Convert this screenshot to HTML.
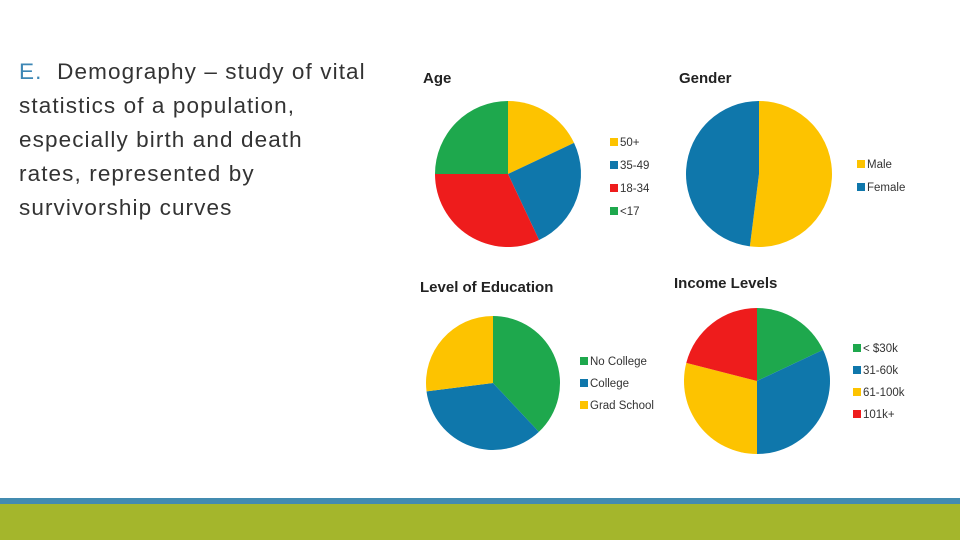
<!DOCTYPE html>
<html><head><meta charset="utf-8"><style>
body{margin:0;width:960px;height:540px;overflow:hidden;background:#fff;font-family:"Liberation Sans",sans-serif;position:relative}
#txt{position:absolute;left:19px;top:55px;width:420px;font-size:22.5px;line-height:34px;color:#333;white-space:nowrap;letter-spacing:1.1px}
#txt span{color:#3d87b5}
svg{position:absolute;left:0;top:0}
</style></head><body>
<div id="txt"><span>E.</span>&nbsp; Demography – study of vital<br>statistics of a population,<br>especially birth and death<br>rates, represented by<br>survivorship curves</div>
<div style="position:absolute;left:0;top:498px;width:960px;height:6px;background:#438bb0"></div>
<div style="position:absolute;left:0;top:504px;width:960px;height:36px;background:#a4b62c"></div>
<svg id="s" width="960" height="540"></svg>
<script>
const ageLabels=["50+","35-49","18-34","<17"];
const ageValues=[18,25,32,25];
const genderLabels=["Male","Female"];
const genderValues=[52,48];
const eduLabels=["No College","College","Grad School"];
const eduValues=[38,35,27];
const incLabels=["< $30k","31-60k","61-100k","101k+"];
const incValues=[18,32,29,21];
const Y="#fdc300",B="#0f77ab",R="#ee1c1c",G="#1ea84d";
const NS="http://www.w3.org/2000/svg";
const s=document.getElementById('s');
function mk(t,a){const e=document.createElementNS(NS,t);for(const k in a)e.setAttribute(k,a[k]);s.appendChild(e);return e;}
function pie(name,title,tx,ty,cx,cy,r,vals,labs,cols,lx,ly,lstep){
  const t=mk('text',{x:tx,y:ty,'font-size':15,'font-weight':'bold',fill:'#222'});t.textContent=title;
  
  
  const tot=vals.reduce((a,b)=>a+b,0);let a0=0;
  vals.forEach((v,i)=>{
    const a1=a0+v/tot*2*Math.PI;
    const x0=cx+r*Math.sin(a0),y0=cy-r*Math.cos(a0),x1=cx+r*Math.sin(a1),y1=cy-r*Math.cos(a1);
    const p=mk('path',{d:`M${cx},${cy}L${x0},${y0}A${r},${r} 0 ${a1-a0>Math.PI?1:0} 1 ${x1},${y1}Z`,fill:cols[i]});
    
    
    a0=a1;
    const rc=mk('rect',{x:lx,y:ly+i*lstep-8,width:8,height:8,fill:cols[i]});
    
    
    const lt=mk('text',{x:lx+10,y:ly+i*lstep,'font-size':11.5,fill:'#333'});lt.textContent=labs[i];
    
    
  });
}
pie('age','Age',423,83,508,174,73,ageValues,ageLabels,[Y,B,R,G],610,146,23);
pie('gender','Gender',679,83,759,174,73,genderValues,genderLabels,[Y,B],857,168,23);
pie('education','Level of Education',420,292,493,383,67,eduValues,eduLabels,[G,B,Y],580,365,22);
pie('income','Income Levels',674,288,757,381,73,incValues,incLabels,[G,B,Y,R],853,352,22);
</script>
</body></html>
